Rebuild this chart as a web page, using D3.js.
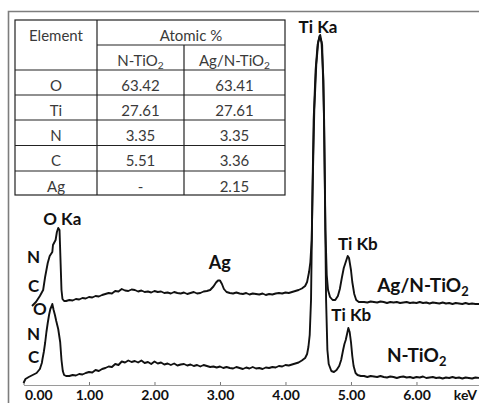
<!DOCTYPE html>
<html>
<head>
<meta charset="utf-8">
<script src="https://cdn.jsdelivr.net/npm/d3@7"></script>
<style>
  body { margin: 0; background: #fff; }
  svg { display: block; }
</style>
</head>
<body>
<svg id="chart" width="479" height="403"></svg>
<script>
// ---- Composition table ----
const elements = ["O", "Ti", "N", "C", "Ag"];
const atomicN = ["63.42", "27.61", "3.35", "5.51", "-"];
const atomicAgN = ["63.41", "27.61", "3.35", "3.36", "2.15"];

// ---- Axis ----
const xTicks = [0, 1, 2, 3, 4, 5, 6];

// ---- EDS spectra: [energy keV, counts] ----
const spectrumN = [
  [0.00, 20], [0.03, 60], [0.08, 80], [0.14, 100], [0.20, 120], [0.25, 160], [0.28, 220],
  [0.29, 260], [0.31, 330], [0.33, 420], [0.35, 530], [0.37, 620], [0.39, 700], [0.41, 760],
  [0.43, 790], [0.44, 810], [0.46, 750], [0.48, 700], [0.50, 640], [0.53, 560], [0.56, 430],
  [0.58, 250], [0.60, 140], [0.62, 100], [0.65, 90],
  [0.70, 90], [0.75, 100], [0.80, 95], [0.85, 110], [0.90, 105], [0.95, 120], [1.00, 130],
  [1.05, 125], [1.10, 150], [1.15, 140], [1.20, 160], [1.25, 170], [1.30, 185], [1.35, 180],
  [1.40, 210], [1.45, 200], [1.50, 235], [1.55, 225], [1.60, 245], [1.65, 230], [1.70, 240],
  [1.75, 225], [1.80, 245], [1.85, 220], [1.90, 230], [1.95, 210], [2.00, 235], [2.05, 215],
  [2.10, 225], [2.15, 205], [2.20, 215], [2.25, 200], [2.30, 215], [2.35, 195], [2.40, 205],
  [2.45, 210], [2.50, 195], [2.55, 205], [2.60, 190], [2.65, 200], [2.70, 185], [2.75, 200],
  [2.80, 190], [2.85, 180], [2.90, 185], [2.95, 175], [3.00, 185], [3.05, 170], [3.10, 180],
  [3.15, 170], [3.20, 165], [3.25, 180], [3.30, 170], [3.35, 160], [3.40, 175], [3.45, 165],
  [3.50, 180], [3.55, 165], [3.60, 170], [3.65, 160], [3.70, 175], [3.75, 170], [3.80, 180],
  [3.85, 175], [3.90, 190], [3.95, 185], [4.00, 200], [4.05, 195], [4.10, 205], [4.15, 215],
  [4.20, 225], [4.25, 245],
  [4.30, 270], [4.33, 310], [4.35, 380], [4.37, 500], [4.39, 850], [4.41, 1850], [4.43, 2650],
  [4.46, 3150], [4.49, 3400], [4.52, 3490], [4.55, 3430], [4.58, 3050], [4.60, 2050],
  [4.62, 850], [4.64, 350], [4.66, 210], [4.70, 140], [4.74, 130], [4.78, 150], [4.82, 190],
  [4.85, 250], [4.88, 350], [4.90, 410], [4.92, 450], [4.94, 510], [4.96, 570], [4.98, 530],
  [5.00, 430], [5.02, 290], [5.04, 190], [5.07, 120], [5.10, 100], [5.15, 90],
  [5.20, 90], [5.25, 80], [5.30, 90], [5.35, 85], [5.40, 80], [5.45, 90], [5.50, 80],
  [5.55, 75], [5.60, 85], [5.65, 80], [5.70, 70], [5.75, 80], [5.80, 85], [5.85, 75],
  [5.90, 80], [5.95, 70], [6.00, 80], [6.05, 75], [6.10, 85], [6.15, 70], [6.20, 75],
  [6.25, 80], [6.30, 70], [6.35, 75], [6.40, 65], [6.45, 75], [6.50, 70], [6.55, 80],
  [6.60, 70], [6.65, 75], [6.70, 65], [6.75, 75], [6.80, 70], [6.85, 65], [6.90, 75], [6.97, 70]
];

const spectrumAgN = [
  [0.13, 40], [0.19, 80], [0.25, 140], [0.30, 200], [0.33, 330], [0.37, 470], [0.40, 540],
  [0.44, 580], [0.45, 650], [0.49, 700], [0.51, 780], [0.53, 820], [0.55, 800], [0.565, 500],
  [0.58, 200], [0.595, 110], [0.62, 90], [0.65, 90],
  [0.70, 100], [0.75, 95], [0.80, 110], [0.85, 105], [0.90, 120], [0.95, 115], [1.00, 130],
  [1.05, 125], [1.10, 140], [1.15, 135], [1.20, 150], [1.25, 160], [1.30, 170], [1.35, 165],
  [1.40, 190], [1.45, 185], [1.50, 210], [1.55, 195], [1.60, 190], [1.65, 205], [1.70, 200],
  [1.75, 185], [1.80, 195], [1.85, 180], [1.90, 185], [1.95, 175], [2.00, 190], [2.05, 180],
  [2.10, 185], [2.15, 170], [2.20, 175], [2.25, 165], [2.30, 180], [2.35, 170], [2.40, 165],
  [2.45, 175], [2.50, 160], [2.55, 170], [2.60, 180], [2.65, 165], [2.70, 170], [2.75, 185],
  [2.80, 190], [2.85, 200], [2.90, 235], [2.94, 275], [2.97, 295], [3.00, 295], [3.03, 260],
  [3.06, 210], [3.10, 180], [3.15, 170], [3.20, 165], [3.25, 175], [3.30, 165], [3.35, 160],
  [3.40, 170], [3.45, 155], [3.50, 165], [3.55, 160], [3.60, 155], [3.65, 165], [3.70, 150],
  [3.75, 160], [3.80, 155], [3.85, 165], [3.90, 170], [3.95, 165], [4.00, 175], [4.05, 170],
  [4.10, 180], [4.15, 190], [4.20, 200], [4.25, 215],
  [4.30, 240], [4.33, 280], [4.36, 380], [4.38, 480], [4.40, 700], [4.42, 1400], [4.44, 2000],
  [4.47, 2450], [4.50, 2680], [4.53, 2750], [4.56, 2650], [4.59, 1900], [4.61, 800],
  [4.63, 350], [4.65, 200], [4.68, 130], [4.72, 100], [4.76, 100], [4.80, 140], [4.83, 210],
  [4.86, 320], [4.89, 420], [4.92, 480], [4.95, 540], [4.97, 520], [5.00, 400], [5.02, 280],
  [5.05, 160], [5.08, 100], [5.12, 80],
  [5.20, 80], [5.25, 75], [5.30, 85], [5.35, 80], [5.40, 75], [5.45, 85], [5.50, 80],
  [5.55, 70], [5.60, 80], [5.65, 75], [5.70, 80], [5.75, 70], [5.80, 75], [5.85, 80],
  [5.90, 70], [5.95, 75], [6.00, 70], [6.05, 80], [6.10, 70], [6.15, 75], [6.20, 65],
  [6.25, 75], [6.30, 70], [6.35, 65], [6.40, 75], [6.45, 65], [6.50, 70], [6.55, 60],
  [6.60, 70], [6.65, 65], [6.70, 60], [6.75, 70], [6.80, 60], [6.85, 65], [6.90, 60], [6.97, 60]
];

// vertical shift that stacks the Ag/N-TiO2 trace above N-TiO2
const stackOffset = 750;

const svg = d3.select("#chart");
const W = 479, H = 403;
const labelFont = "Lato, 'Open Sans', sans-serif";

// outer frame
svg.append("path")
  .attr("d", `M8.5,${H}V11.5H${W}`)
  .attr("fill", "none")
  .attr("stroke", "#7d7d7d")
  .attr("stroke-width", 1.6);

// scales
const x = d3.scaleLinear().domain([0, 6.97]).range([23.5, 480]);
const y = d3.scaleLinear().domain([0, 3500]).range([385, 35]);

// x axis with short upward ticks
const axis = d3.axisBottom(x)
  .tickValues(xTicks)
  .tickFormat(d3.format(".2f"))
  .tickSizeInner(-3)
  .tickSizeOuter(0)
  .tickPadding(5);

const gx = svg.append("g")
  .attr("transform", `translate(0,${y(0)})`)
  .call(axis);
gx.select(".domain").attr("stroke", "#9a9a9a").attr("stroke-width", 1);
gx.selectAll(".tick line").attr("stroke", "#777");
gx.selectAll(".tick text")
  .attr("font-family", labelFont)
  .attr("font-weight", 700)
  .attr("font-size", 14)
  .attr("fill", "#111");
gx.selectAll(".tick").filter(d => d === 0).select("text")
  .attr("text-anchor", "start").attr("dx", 1);
gx.append("text")
  .attr("x", W - 2)
  .attr("y", 5)
  .attr("dy", "0.71em")
  .attr("text-anchor", "end")
  .attr("font-family", labelFont)
  .attr("font-weight", 700)
  .attr("font-size", 14)
  .attr("fill", "#111")
  .text("keV");

// spectra
const lineFor = offset => d3.line()
  .x(d => x(d[0]))
  .y(d => y(d[1] + offset));

svg.append("path")
  .datum(spectrumN)
  .attr("d", lineFor(0))
  .attr("fill", "none")
  .attr("stroke", "#111")
  .attr("stroke-width", 1.9)
  .attr("stroke-linejoin", "round");

svg.append("path")
  .datum(spectrumAgN)
  .attr("d", lineFor(stackOffset))
  .attr("fill", "none")
  .attr("stroke", "#111")
  .attr("stroke-width", 1.9)
  .attr("stroke-linejoin", "round");

// text helper with an optional subscript
function label(parent, px, py, base, sub, size, opts = {}) {
  const t = parent.append("text")
    .attr("x", px)
    .attr("y", py)
    .attr("font-family", labelFont)
    .attr("font-weight", opts.weight || 700)
    .attr("font-size", size)
    .attr("fill", opts.fill || "#111")
    .attr("text-anchor", opts.anchor || "start");
  t.append("tspan").text(base);
  if (sub) {
    t.append("tspan")
      .attr("font-size", size * 0.68)
      .attr("dy", size * 0.22)
      .text(sub);
  }
  return t;
}

// peak annotations
const ann = svg.append("g");
label(ann, x(4.2), 33, "Ti Ka", null, 17);
label(ann, x(0.3), 225, "O Ka", null, 17);
label(ann, 27, 263, "N", null, 17);
label(ann, 28, 292, "C", null, 17);
label(ann, 33, 315, "O", null, 17);
label(ann, 27, 340, "N", null, 17);
label(ann, 28, 363, "C", null, 17);
label(ann, x(2.83), 269, "Ag", null, 18);
label(ann, x(4.8), 250, "Ti Kb", null, 17);
label(ann, x(4.7), 321, "Ti Kb", null, 17);
label(ann, x(5.4), 292, "Ag/N-TiO", "2", 19);
label(ann, x(5.55), 362, "N-TiO", "2", 19);

// composition table
const colEdges = [15, 97, 184, 285];
const rowEdges = [20, 45, 70, 95, 120, 145.5, 171, 195];
const tbl = svg.append("g")
  .attr("stroke", "#222")
  .attr("stroke-width", 1.2)
  .attr("fill", "none");

tbl.append("rect")
  .attr("x", colEdges[0]).attr("y", rowEdges[0])
  .attr("width", colEdges[3] - colEdges[0])
  .attr("height", rowEdges[7] - rowEdges[0]);
tbl.append("line")
  .attr("x1", colEdges[1]).attr("x2", colEdges[1])
  .attr("y1", rowEdges[0]).attr("y2", rowEdges[7]);
tbl.append("line")
  .attr("x1", colEdges[2]).attr("x2", colEdges[2])
  .attr("y1", rowEdges[1]).attr("y2", rowEdges[7]);
tbl.append("line")
  .attr("x1", colEdges[1]).attr("x2", colEdges[3])
  .attr("y1", rowEdges[1]).attr("y2", rowEdges[1]);
rowEdges.slice(2, 7).forEach(ry => {
  tbl.append("line")
    .attr("x1", colEdges[0]).attr("x2", colEdges[3])
    .attr("y1", ry).attr("y2", ry);
});

const txt = svg.append("g");
const cellOpts = { weight: 400, fill: "#3a3a3a", anchor: "middle" };
const colMid = i => (colEdges[i] + colEdges[i + 1]) / 2;
const base = i => rowEdges[i] + 20.5;

label(txt, colMid(0), base(0), "Element", null, 15, cellOpts);
label(txt, (colEdges[1] + colEdges[3]) / 2, base(0), "Atomic %", null, 15, cellOpts);
label(txt, colMid(1), base(1), "N-TiO", "2", 15, cellOpts);
label(txt, colMid(2), base(1), "Ag/N-TiO", "2", 15, cellOpts);
elements.forEach((el, i) => {
  label(txt, colMid(0), base(i + 2), el, null, 15, cellOpts);
  label(txt, colMid(1), base(i + 2), atomicN[i], null, 15, cellOpts);
  label(txt, colMid(2), base(i + 2), atomicAgN[i], null, 15, cellOpts);
});
</script>
</body>
</html>
